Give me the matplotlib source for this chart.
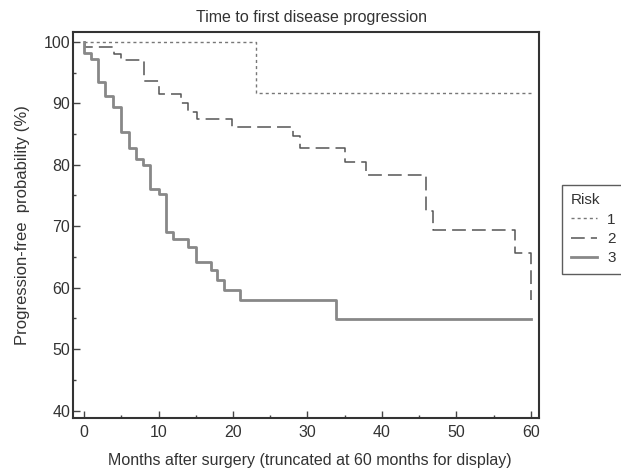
import matplotlib
matplotlib.use("Agg")
import matplotlib.pyplot as plt
from matplotlib.ticker import MultipleLocator

# event times (months) and survival after each step (%)
risk1_t = [23.1]
risk1_s = [91.6]

risk2_t = [0.1, 4.0, 5.0, 8.0, 10.0, 13.0, 14.0, 15.1, 19.9, 28.0, 29.0,
           35.0, 37.9, 45.9, 46.9, 57.9, 60.0]
risk2_s = [99.1, 98.1, 97.0, 93.6, 91.5, 90.1, 88.6, 87.4, 86.2, 84.6, 82.8,
           80.5, 78.3, 72.4, 69.4, 65.6, 58.0]

risk3_t = [0.0, 0.9, 1.9, 2.8, 3.9, 5.0, 6.0, 7.0, 7.9, 8.9, 10.0, 11.0,
           11.9, 13.9, 15.0, 17.0, 17.9, 18.8, 20.9, 33.8]
risk3_s = [98.2, 97.2, 93.5, 91.2, 89.4, 85.4, 82.8, 80.9, 80.0, 76.0, 75.2,
           69.0, 67.9, 66.7, 64.2, 62.8, 61.3, 59.7, 58.0, 54.9]

labels = ["1", "2", "3"]
t_end = 60

plt.rcParams['font.family'] = ['Liberation Sans', 'DejaVu Sans']

fig = plt.figure(figsize=(6.21, 4.68), dpi=100)
ax = fig.add_axes([73 / 621, 1 - 418 / 468, 466 / 621, 386 / 468])


def km_curve(t, s):
    x = [0] + list(t) + [t_end]
    y = [100] + list(s) + [s[-1]]
    return x, y


x1, y1 = km_curve(risk1_t, risk1_s)
x2, y2 = km_curve(risk2_t, risk2_s)
x3, y3 = km_curve(risk3_t, risk3_s)

ax.step(x1, y1, where="post", color="#777777", lw=1.0, dashes=(2.2, 2.2), label=labels[0])
ax.step(x2, y2, where="post", color="#555555", lw=1.1, dashes=(9, 4), label=labels[1])
ax.step(x3, y3, where="post", color="#888888", lw=2.0, label=labels[2])

ax.set_xlim(-1.5, 61.1)
ax.set_ylim(38.8, 101.6)
ax.xaxis.set_major_locator(MultipleLocator(10))
ax.xaxis.set_minor_locator(MultipleLocator(5))
ax.yaxis.set_major_locator(MultipleLocator(10))
ax.yaxis.set_minor_locator(MultipleLocator(5))
ax.tick_params(which="both", direction="in", color="#444444", labelcolor="#333333",
               labelsize=11.5)
ax.tick_params(which="major", length=5, width=1)
ax.tick_params(which="minor", length=2.5, width=1)
ax.tick_params(axis="x", pad=5)
ax.tick_params(axis="y", pad=2)
for sp in ax.spines.values():
    sp.set_color("#333333")
    sp.set_linewidth(1.5)

fig.text(311 / 621, 1 - 17.5 / 468, "Time to first disease progression",
         ha="center", va="center", fontsize=11.5, color="#333333")
fig.text(310 / 621, 1 - 460 / 468,
         "Months after surgery (truncated at 60 months for display)",
         ha="center", va="center", fontsize=11.5, color="#333333")
fig.text(23 / 621, 1 - 225 / 468, "Progression-free  probability (%)",
         ha="center", va="center", rotation=90, fontsize=12, color="#333333")

leg = ax.legend(title="Risk", loc="upper left", bbox_to_anchor=(1.05, 0.604),
                borderaxespad=0, fancybox=False, edgecolor="#333333",
                handlelength=1.7, handletextpad=0.7, fontsize=11,
                title_fontsize=11, labelspacing=0.35, borderpad=0.55)
leg._legend_box.align = "left"
leg.get_frame().set_linewidth(1.0)
for txt in leg.get_texts():
    txt.set_color("#333333")
leg.get_title().set_color("#333333")

fig.savefig("out.png", dpi=100)
